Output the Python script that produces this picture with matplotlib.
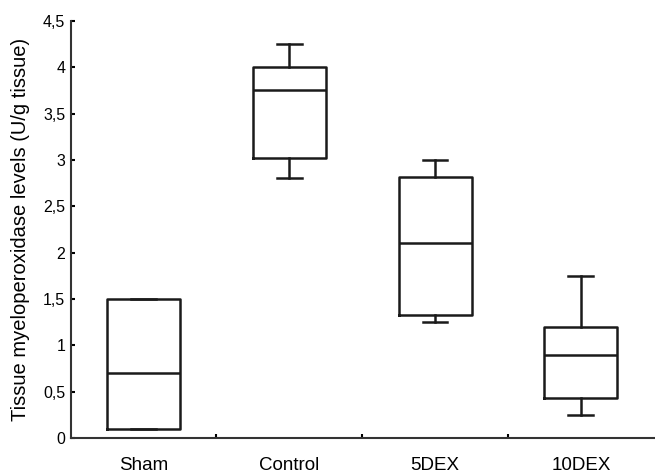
import matplotlib
matplotlib.use("Agg")
import matplotlib.pyplot as plt

groups = ["Sham", "Control", "5DEX", "10DEX"]
whislo = [0.1, 2.8, 1.25, 0.25]
q1 = [0.1, 3.02, 1.33, 0.43]
med = [0.7, 3.75, 2.1, 0.9]
q3 = [1.5, 4.0, 2.82, 1.2]
whishi = [1.5, 4.25, 3.0, 1.75]
yticks = [0, 0.5, 1, 1.5, 2, 2.5, 3, 3.5, 4, 4.5]

plt.rcParams['font.family'] = ['Liberation Sans', 'DejaVu Sans']

fig = plt.figure(figsize=(6.55, 4.74), dpi=100)
ax = fig.add_axes([0.108, 0.076, 0.89, 0.88])

stats = []
for i in range(len(groups)):
    stats.append(dict(label=groups[i], whislo=whislo[i], q1=q1[i], med=med[i],
                      q3=q3[i], whishi=whishi[i], fliers=[]))

lw = 1.8
ax.bxp(stats, positions=range(1, 5), widths=0.5, capwidths=0.17,
       showfliers=False, patch_artist=False,
       boxprops=dict(color='#1a1a1a', linewidth=lw),
       medianprops=dict(color='#1a1a1a', linewidth=lw),
       whiskerprops=dict(color='#1a1a1a', linewidth=lw),
       capprops=dict(color='#1a1a1a', linewidth=lw))

ax.set_xlim(0.5, 4.5)
ax.set_ylim(0, 4.5)
ax.set_yticks(yticks)
ax.set_yticklabels([("%g" % v).replace('.', ',') for v in yticks])
ax.set_xticks([1, 2, 3, 4])
ax.set_xticklabels(groups)
ax.set_xticks([1.5, 2.5, 3.5], minor=True)
ax.tick_params(axis='x', which='major', length=0, pad=13.5, labelsize=13.5)
ax.tick_params(axis='x', which='minor', direction='in', length=3, width=1.5)
ax.tick_params(axis='y', direction='in', length=3, width=1.5, pad=4, labelsize=11.5)

for s in ['top', 'right']:
    ax.spines[s].set_visible(False)
for s in ['left', 'bottom']:
    ax.spines[s].set_linewidth(1.5)
    ax.spines[s].set_color('#333333')

ax.set_ylabel('Tissue myeloperoxidase levels (U/g tissue)', fontsize=14.5, labelpad=9)

fig.savefig('out.png', dpi=100)
